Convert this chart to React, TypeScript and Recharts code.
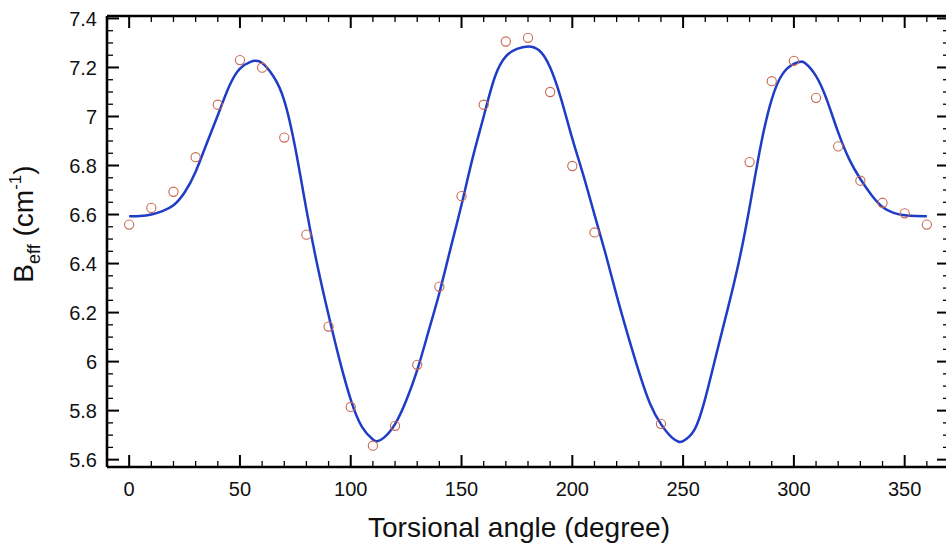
import React from 'react';
import { ComposedChart, Line, Scatter, XAxis, YAxis } from 'recharts';

// Fitted curve (blue line)
const fitAngles = [0, 5, 10, 15, 20, 25, 30, 35, 40, 45, 50, 55, 57, 60, 65, 70, 75, 80, 85, 90, 95, 100, 105, 110, 112, 115, 120, 125, 130, 135, 140, 145, 150, 155, 160, 165, 170, 175, 180, 185, 190, 195, 200, 205, 210, 215, 220, 225, 230, 235, 240, 245, 248, 250, 255, 260, 265, 270, 275, 280, 285, 290, 295, 300, 303, 305, 310, 315, 320, 325, 330, 335, 340, 345, 350, 355, 360];
const fitValues = [6.593, 6.594, 6.6, 6.614, 6.638, 6.69, 6.775, 6.89, 7.005, 7.12, 7.195, 7.224, 7.227, 7.218, 7.165, 7.065, 6.87, 6.62, 6.39, 6.19, 6.005, 5.845, 5.735, 5.682, 5.675, 5.69, 5.745, 5.84, 5.965, 6.12, 6.28, 6.46, 6.64, 6.83, 7.0, 7.16, 7.245, 7.276, 7.286, 7.27, 7.2, 7.07, 6.91, 6.76, 6.6, 6.44, 6.27, 6.11, 5.96, 5.83, 5.745, 5.69, 5.673, 5.676, 5.72, 5.85, 6.03, 6.21, 6.4, 6.63, 6.88, 7.07, 7.175, 7.215, 7.223, 7.218, 7.165, 7.065, 6.935, 6.825, 6.745, 6.68, 6.631, 6.607, 6.597, 6.594, 6.593];

// Computed points (open circles)
const pointAngles = [0, 10, 20, 30, 40, 50, 60, 70, 80, 90, 100, 110, 120, 130, 140, 150, 160, 170, 180, 190, 200, 210, 240, 280, 290, 300, 310, 320, 330, 340, 350, 360];
const pointValues = [6.559, 6.627, 6.693, 6.834, 7.048, 7.23, 7.199, 6.914, 6.518, 6.143, 5.815, 5.657, 5.738, 5.987, 6.306, 6.675, 7.048, 7.306, 7.321, 7.1, 6.798, 6.527, 5.746, 6.814, 7.144, 7.227, 7.076, 6.878, 6.738, 6.648, 6.605, 6.559];

// Axis ticks
const xMajorTicks = [0, 50, 100, 150, 200, 250, 300, 350];
const xMinorTicks = [10, 20, 30, 40, 60, 70, 80, 90, 110, 120, 130, 140, 160, 170, 180, 190, 210, 220, 230, 240, 260, 270, 280, 290, 310, 320, 330, 340, 360];
const yMajorTicks = [5.6, 5.8, 6, 6.2, 6.4, 6.6, 6.8, 7, 7.2, 7.4];
const yMinorTicks = [5.65, 5.7, 5.75, 5.85, 5.9, 5.95, 6.05, 6.1, 6.15, 6.25, 6.3, 6.35, 6.45, 6.5, 6.55, 6.65, 6.7, 6.75, 6.85, 6.9, 6.95, 7.05, 7.1, 7.15, 7.25, 7.3, 7.35];
const xDomain: [number, number] = [-10, 370];
const yDomain: [number, number] = [5.57, 7.41];

const xTitle = 'Torsional angle (degree)';

const fitData = fitAngles.map((x, i) => ({ x, y: fitValues[i] }));
const pointData = pointAngles.map((x, i) => ({ x, y: pointValues[i] }));
const xAllTicks = [...xMajorTicks, ...xMinorTicks].sort((a, b) => a - b);
const yAllTicks = [...yMajorTicks, ...yMinorTicks].sort((a, b) => a - b);

// layout
const CHART_W = 950;
const CHART_H = 543;
const M_TOP = 16;
const M_RIGHT = 1;
const M_BOTTOM = 1;
const Y_AXIS_W = 107;
const X_AXIS_H = 75;
const PLOT_TOP = M_TOP;
const PLOT_BOTTOM = CHART_H - M_BOTTOM - X_AXIS_H;
const PLOT_LEFT = Y_AXIS_W;
const PLOT_RIGHT = CHART_W - M_RIGHT;
const MAJOR_LEN = 12;
const MINOR_LEN = 6;

const FONT = '"Liberation Sans", Arial, Helvetica, sans-serif';
const BLUE = '#1f3cc6';
const RED = '#c8674f';
const INK = '#111';

const isMajorX = (v: number) => xMajorTicks.includes(v);
const isMajorY = (v: number) => yMajorTicks.some((t) => Math.abs(t - v) < 1e-9);

const XTick = (p: any) => {
  const v = p.payload.value;
  const major = isMajorX(v);
  const len = major ? MAJOR_LEN : MINOR_LEN;
  const sw = major ? 2 : 1.3;
  return (
    <g>
      <line x1={p.x} x2={p.x} y1={PLOT_BOTTOM} y2={PLOT_BOTTOM - len} stroke="#000" strokeWidth={sw} />
      <line x1={p.x} x2={p.x} y1={PLOT_TOP} y2={PLOT_TOP + len} stroke="#000" strokeWidth={sw} />
      {major && (
        <text x={p.x} y={p.y} dy="0.71em" textAnchor="middle" fontSize={20} fontFamily={FONT} fill={INK}>
          {String(v)}
        </text>
      )}
    </g>
  );
};

const YTick = (p: any) => {
  const v = p.payload.value;
  const major = isMajorY(v);
  const len = major ? MAJOR_LEN : MINOR_LEN;
  const sw = major ? 2 : 1.3;
  return (
    <g>
      <line x1={PLOT_LEFT} x2={PLOT_LEFT + len} y1={p.y} y2={p.y} stroke="#000" strokeWidth={sw} />
      <line x1={PLOT_RIGHT} x2={PLOT_RIGHT - len} y1={p.y} y2={p.y} stroke="#000" strokeWidth={sw} />
      {major && (
        <text x={p.x} y={p.y} dy="0.355em" textAnchor="end" fontSize={20} fontFamily={FONT} fill={INK}>
          {String(Number(v.toFixed(1)))}
        </text>
      )}
    </g>
  );
};

const YTitle = () => (
  <text
    x={33}
    y={224}
    transform="rotate(-90 33 224)"
    textAnchor="middle"
    fontFamily={FONT}
    fontSize={28}
    fill={INK}
  >
    B
    <tspan fontSize={18} dy={7}>eff</tspan>
    <tspan dy={-7}> (cm</tspan>
    <tspan fontSize={17} dy={-12}>-1</tspan>
    <tspan dy={12}>)</tspan>
  </text>
);

const NoLabel = () => <g />;

const Circle = (p: any) =>
  p.cx == null || p.cy == null ? null : (
    <circle cx={p.cx} cy={p.cy} r={4.6} fill="none" stroke={RED} strokeWidth={1.1} />
  );

const frameLine = { stroke: '#000', strokeWidth: 2.6 };

export default function App() {
  return (
    <div style={{ position: 'absolute', left: 0, top: 0, width: 946, height: 543, overflow: 'hidden', background: '#fff' }}>
      <ComposedChart width={CHART_W} height={CHART_H} margin={{ top: M_TOP, right: M_RIGHT, bottom: M_BOTTOM, left: 0 }}>
        <XAxis
          xAxisId="x"
          type="number"
          dataKey="x"
          domain={xDomain}
          allowDataOverflow
          ticks={xAllTicks}
          interval={0}
          height={X_AXIS_H}
          tickLine={false}
          tickSize={0}
          tickMargin={15}
          axisLine={frameLine}
          tick={XTick}
          label={{ value: xTitle, position: 'insideBottom', offset: 5, dx: -9, fontSize: 28, fontFamily: FONT, fill: INK }}
        />
        <XAxis
          xAxisId="xTop"
          type="number"
          domain={xDomain}
          allowDataOverflow
          orientation="top"
          mirror
          height={0.001}
          ticks={xMajorTicks}
          interval={0}
          tick={NoLabel}
          tickLine={false}
          axisLine={frameLine}
        />

        <YAxis
          yAxisId="y"
          type="number"
          dataKey="y"
          domain={yDomain}
          allowDataOverflow
          ticks={yAllTicks}
          interval={0}
          width={Y_AXIS_W}
          tickLine={false}
          tickSize={0}
          tickMargin={10}
          axisLine={frameLine}
          tick={YTick}
          label={<YTitle />}
        />
        <YAxis
          yAxisId="yRight"
          type="number"
          domain={yDomain}
          allowDataOverflow
          orientation="right"
          mirror
          width={0.001}
          ticks={yMajorTicks}
          interval={0}
          tick={NoLabel}
          tickLine={false}
          axisLine={frameLine}
        />

        <Line
          xAxisId="x"
          yAxisId="y"
          data={fitData}
          dataKey="y"
          type="natural"
          stroke={BLUE}
          strokeWidth={2.5}
          dot={false}
          activeDot={false}
          isAnimationActive={false}
        />
        <Scatter
          xAxisId="x"
          yAxisId="y"
          data={pointData}
          dataKey="y"
          shape={Circle}
          isAnimationActive={false}
        />
      </ComposedChart>
    </div>
  );
}
